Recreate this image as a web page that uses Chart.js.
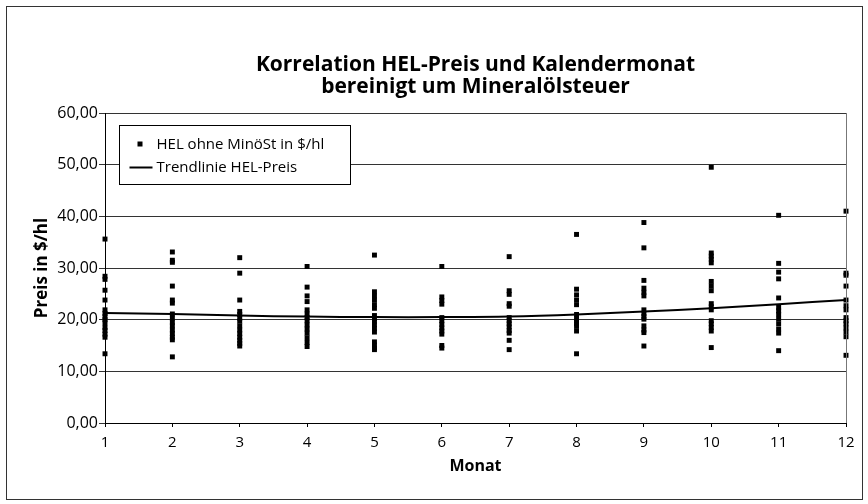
<!DOCTYPE html>
<html>
<head>
<meta charset="utf-8">
<script src="https://cdn.jsdelivr.net/npm/chart.js@4.4.1/dist/chart.umd.min.js"></script>
<style>
  html, body { margin: 0; padding: 0; background: #fff; }
  #wrap { width: 868px; height: 504px; position: relative; }
</style>
</head>
<body>
<div id="wrap"><canvas id="myChart"></canvas></div>
<script>
// ===== DATA =====
const monate = [1, 2, 3, 4, 5, 6, 7, 8, 9, 10, 11, 12];
const preisJan = [35.6, 28.4, 27.8, 25.7, 23.8, 21.9, 21.2, 20.6, 20.0, 19.4, 18.5, 17.9, 17.2, 16.6, 13.4];
const preisFeb = [33.1, 31.5, 31.1, 26.5, 23.8, 23.2, 21.1, 20.3, 19.5, 18.8, 18.0, 17.3, 16.6, 16.1, 12.8];
const preisMrz = [32.0, 29.0, 23.8, 21.6, 21.0, 20.3, 19.7, 18.8, 18.0, 17.3, 16.6, 16.0, 15.4, 14.9];
const preisApr = [30.3, 26.3, 24.6, 23.5, 21.9, 21.1, 20.4, 19.8, 19.0, 18.2, 17.4, 16.5, 15.6, 14.8];
const preisMai = [32.5, 25.4, 24.6, 23.8, 22.9, 22.2, 20.8, 20.2, 19.7, 19.0, 18.3, 17.6, 15.7, 15.1, 14.5, 14.2];
const preisJun = [30.3, 24.4, 23.7, 23.0, 20.4, 19.8, 19.1, 18.4, 17.8, 17.2, 15.0, 14.5];
const preisJul = [32.2, 25.6, 24.9, 23.1, 22.6, 20.4, 19.8, 19.2, 18.6, 17.9, 17.4, 16.0, 14.2];
const preisAug = [36.5, 25.9, 24.8, 23.8, 22.9, 21.0, 20.2, 19.7, 19.2, 18.7, 17.8, 13.4];
const preisSep = [38.8, 33.9, 27.6, 26.1, 25.3, 24.6, 21.9, 21.2, 20.6, 20.1, 18.8, 18.0, 17.5, 14.9];
const preisOkt = [49.5, 32.9, 32.3, 31.7, 31.0, 27.4, 26.5, 25.6, 23.1, 22.5, 21.9, 19.8, 19.2, 18.5, 17.8, 14.6];
const preisNov = [40.2, 30.9, 29.2, 27.9, 24.2, 22.4, 21.7, 21.0, 20.1, 19.2, 18.2, 17.4, 14.0];
const preisDez = [41.0, 29.0, 28.6, 26.5, 23.8, 22.7, 21.9, 20.4, 19.8, 19.2, 18.4, 17.6, 16.7, 13.1];
const preiseNachMonat = [preisJan, preisFeb, preisMrz, preisApr, preisMai, preisJun,
  preisJul, preisAug, preisSep, preisOkt, preisNov, preisDez];
const trendWerte = [21.3, 21.1, 20.8, 20.6, 20.5, 20.5, 20.6, 21.0, 21.6, 22.2, 23.0, 23.8];
const yTicks = [0, 10, 20, 30, 40, 50, 60];

const streuPunkte = [];
preiseNachMonat.forEach((werte, i) => {
  werte.forEach((v) => streuPunkte.push({ x: monate[i], y: v }));
});
const trendPunkte = monate.map((m, i) => ({ x: m, y: trendWerte[i] }));

const FONT = "'Open Sans', 'Noto Sans', sans-serif";
Chart.defaults.font.family = FONT;
Chart.defaults.color = "#000";

// frame, plot border and boxed legend inside the plot
const framePlugin = {
  id: "framePlugin",
  beforeDraw(chart) {
    const { ctx, width, height } = chart;
    ctx.save();
    ctx.fillStyle = "#fff";
    ctx.fillRect(0, 0, width, height);
    ctx.restore();
  },
  afterDraw(chart) {
    const { ctx, chartArea } = chart;
    ctx.save();
    ctx.strokeStyle = "#333";
    ctx.lineWidth = 1;
    ctx.strokeRect(6.5, 6.5, 856, 493);
    ctx.strokeStyle = "#777";
    ctx.beginPath();
    ctx.moveTo(Math.round(chartArea.right) + 0.5, chartArea.top);
    ctx.lineTo(Math.round(chartArea.right) + 0.5, chartArea.bottom);
    ctx.stroke();

    // legend box
    const bx = chartArea.left + 14.5;
    const by = chartArea.top + 12.5;
    ctx.fillStyle = "#fff";
    ctx.fillRect(bx, by, 231, 59);
    ctx.strokeStyle = "#000";
    ctx.strokeRect(bx, by, 231, 59);
    const ds = chart.data.datasets;
    ctx.font = "15px " + FONT;
    ctx.textBaseline = "middle";
    ctx.textAlign = "left";
    ctx.fillStyle = "#000";
    ctx.fillRect(bx + 18, by + 16, 5, 5);
    ctx.fillText(ds[1].label, bx + 37, by + 19);
    ctx.lineWidth = 2;
    ctx.beginPath();
    ctx.moveTo(bx + 10, by + 42);
    ctx.lineTo(bx + 33, by + 42);
    ctx.stroke();
    ctx.fillText(ds[0].label, bx + 37, by + 42);
    ctx.restore();
  },
};

new Chart(document.getElementById("myChart"), {
  type: "scatter",
  data: {
    datasets: [
      {
        type: "line",
        label: "Trendlinie HEL-Preis",
        data: trendPunkte,
        borderColor: "#000",
        borderWidth: 2,
        pointRadius: 0,
        tension: 0.4,
        fill: false,
        clip: false,
        order: 0,
      },
      {
        label: "HEL ohne MinöSt in $/hl",
        data: streuPunkte,
        pointStyle: "rect",
        pointRadius: 3.5,
        borderWidth: 0,
        backgroundColor: "#000",
        borderColor: "#000",
        clip: false,
        order: 1,
      },
    ],
  },
  options: {
    responsive: true,
    maintainAspectRatio: false,
    animation: false,
    layout: {
      padding: { left: 0, right: 22, top: 0, bottom: 0 },
    },
    plugins: {
      legend: { display: false },
      tooltip: { enabled: false },
      title: {
        display: true,
        fullSize: false,
        text: ["Korrelation HEL-Preis und Kalendermonat", "bereinigt um Mineralölsteuer"],
        color: "#000",
        font: { size: 21, weight: "bold", lineHeight: "22px" },
        padding: { top: 54, bottom: 15 },
      },
    },
    scales: {
      x: {
        type: "linear",
        min: 1,
        max: 12,
        afterFit: (scale) => { scale.height = 81; },
        ticks: {
          stepSize: 1,
          padding: 7,
          font: { size: 15 },
          color: "#000",
          maxRotation: 0,
        },
        grid: {
          drawOnChartArea: false,
          drawTicks: true,
          tickLength: 4,
          color: "#000",
        },
        border: { color: "#000", width: 1 },
        title: {
          display: true,
          text: "Monat",
          font: { size: 16, weight: "bold" },
          color: "#000",
          padding: { top: 0, bottom: 28 },
        },
      },
      y: {
        min: 0,
        max: 60,
        afterFit: (scale) => { scale.width = 105; },
        afterBuildTicks: (scale) => {
          scale.ticks = yTicks.map((v) => ({ value: v }));
        },
        ticks: {
          padding: 1,
          font: { size: 16 },
          color: "#000",
          callback: (value) => value.toFixed(2).replace(".", ","),
        },
        grid: {
          color: "#333",
          lineWidth: 1,
          tickLength: 6,
        },
        border: { color: "#000", width: 1 },
        title: {
          display: true,
          text: "Preis in $/hl",
          font: { size: 17, weight: "bold" },
          color: "#000",
          padding: { top: 32, bottom: 0 },
        },
      },
    },
  },
  plugins: [framePlugin],
});
</script>
</body>
</html>
